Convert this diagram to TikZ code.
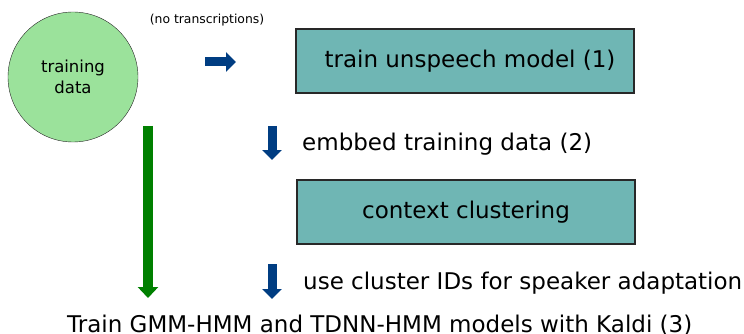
\documentclass[tikz,border=0pt]{standalone}
\usepackage{fontspec}
\setmainfont{DejaVu Sans}
\usepackage{tikz}
\usetikzlibrary{arrows.meta,positioning}
\definecolor{datagreen}{RGB}{155,226,155}
\definecolor{boxteal}{RGB}{111,182,180}
\definecolor{flowblue}{RGB}{0,61,130}
\definecolor{flowgreen}{RGB}{0,128,0}
\definecolor{edge}{RGB}{40,40,40}
\tikzset{
  stagebox/.style={draw=edge,line width=1.2pt,fill=boxteal,minimum width=338pt,
    minimum height=64pt,font=\fontsize{23}{27}\selectfont},
  steplabel/.style={anchor=base west,inner sep=0pt,font=\fontsize{23}{27}\selectfont},
  bflow/.style={-{Triangle[width=19pt,length=10pt]},line width=9pt,draw=flowblue},
  gflow/.style={-{Triangle[width=20pt,length=11pt]},line width=10pt,draw=flowgreen},
}
\begin{document}
\begin{tikzpicture}[x=1pt,y=-1pt]
  \useasboundingbox (0,0) rectangle (744,334);
  \node[circle,draw=edge,fill=datagreen,minimum size=130pt,align=center,
    font=\fontsize{16.5}{21}\selectfont] (data) at (73,77) {training\\data};
  \node[font=\fontsize{12.4}{14}\selectfont] (note) at (207,20) {(no transcriptions)};

  \node[stagebox] (unspeech) at (465,61) {\hspace*{10pt}train unspeech model (1)};
  \node[stagebox] (cluster) at (466,212) {context clustering};

  \coordinate (r1) at (205,62);
  \coordinate (r2) at (236,62);
  \draw[bflow] (r1) -- (r2);

  \coordinate (e1) at (272,126);
  \coordinate (e2) at (272,160);
  \draw[bflow] (e1) -- (e2);
  \node[steplabel] (embed) at (302,150) {embbed training data (2)};

  \coordinate (u1) at (272,264);
  \coordinate (u2) at (272,299);
  \draw[bflow] (u1) -- (u2);
  \node[steplabel] (adapt) at (303,289) {use cluster IDs for speaker adaptation};

  \coordinate (g1) at (148,126);
  \coordinate (g2) at (148,298);
  \draw[gflow] (g1) -- (g2);

  \node[font=\fontsize{23}{27}\selectfont,anchor=base west,inner sep=0pt] (kaldi) at (67,332) {Train GMM-HMM and TDNN-HMM models with Kaldi (3)};
\end{tikzpicture}
\end{document}
